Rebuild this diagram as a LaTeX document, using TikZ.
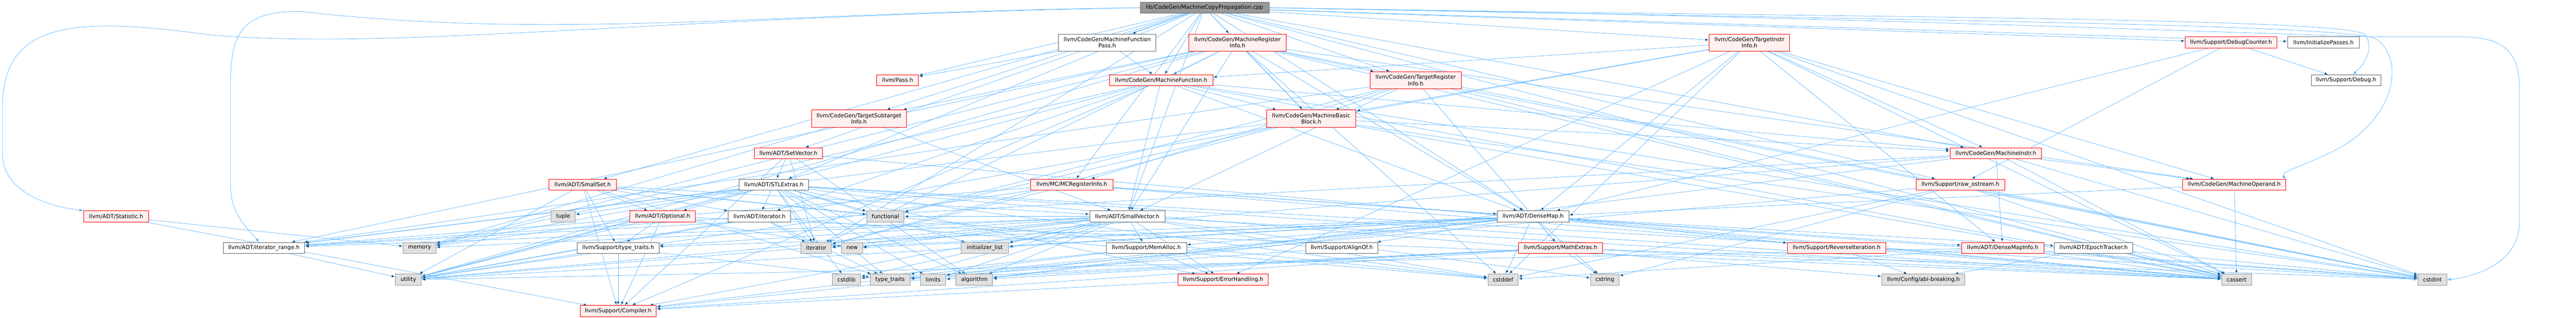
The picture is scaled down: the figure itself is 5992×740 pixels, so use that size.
\documentclass[tikz,border=0pt]{standalone}
\usepackage{fontspec}
\setmainfont{DejaVu Sans}
\usetikzlibrary{arrows.meta, backgrounds}

\definecolor{edgeblue}{HTML}{63B8FF}
\definecolor{redfill}{HTML}{FFF0F0}
\definecolor{leafgray}{HTML}{E0E0E0}
\definecolor{rootgray}{HTML}{999999}

\begin{document}
\begin{tikzpicture}[x=1pt, y=-1pt]
            \tikzstyle{every node}+=[inner sep=0pt, align=center, font=\fontsize{12.8}{14.5}\selectfont, minimum height=26pt]
            \tikzstyle{redfile}=[draw=red, fill=redfill, line width=1pt]
            \tikzstyle{plainfile}=[draw=black!60, fill=white, line width=1pt]
            \tikzstyle{leaffile}=[draw=black!40, fill=leafgray, line width=1pt]
            \tikzstyle{rootfile}=[draw=black!60, fill=rootgray, line width=1pt]
            \tikzstyle{twoline}=[minimum height=40pt]
            \tikzstyle{inc}=[draw=edgeblue, line width=0.9pt, -{Latex[length=9pt,width=7pt]}]
            \useasboundingbox (0,0) rectangle (5992,740);
            % top
            \node [rootfile, minimum width=300pt] (root) at (2802,18) {lib/CodeGen/MachineCopyPropagation.cpp};
            \node [plainfile, twoline, minimum width=227pt] (mfpass) at (2575.5,99) {llvm/CodeGen/MachineFunction\\Pass.h};
            \node [redfile, twoline, minimum width=227pt] (mri) at (2878.5,99) {llvm/CodeGen/MachineRegister\\Info.h};
            \node [redfile, twoline, minimum width=187pt] (tii) at (4069.5,99) {llvm/CodeGen/TargetInstr\\Info.h};
            \node [redfile, minimum width=213pt] (dbgcounter) at (5189.5,99) {llvm/Support/DebugCounter.h};
            \node [plainfile, minimum width=167pt] (initpasses) at (5404.5,99) {llvm/InitializePasses.h};
            \node [redfile, twoline, minimum width=212pt] (tri) at (3293,187) {llvm/CodeGen/TargetRegister\\Info.h};
            \node [redfile, minimum width=97pt] (pass) at (2088,187) {llvm/Pass.h};
            \node [redfile, minimum width=240pt] (mf) at (2701,187) {llvm/CodeGen/MachineFunction.h};
            \node [plainfile, minimum width=162pt] (debug) at (5457,187) {llvm/Support/Debug.h};
            \node [redfile, twoline, minimum width=220pt] (tsi) at (1998,276) {llvm/CodeGen/TargetSubtarget\\Info.h};
            \node [redfile, twoline, minimum width=208pt] (mbb) at (3050,276) {llvm/CodeGen/MachineBasic\\Block.h};
            \node [redfile, minimum width=158pt] (setvector) at (1834,357) {llvm/ADT/SetVector.h};
            \node [redfile, minimum width=213pt] (minstr) at (4642.5,357) {llvm/CodeGen/MachineInstr.h};
            % middle
            \node [redfile, minimum width=157pt] (smallset) at (1355.5,430) {llvm/ADT/SmallSet.h};
            \node [plainfile, minimum width=162pt] (stlextras) at (1800,430) {llvm/ADT/STLExtras.h};
            \node [redfile, minimum width=192pt] (mcreg) at (2493,430) {llvm/MC/MCRegisterInfo.h};
            \node [redfile, minimum width=206pt] (rawostream) at (4560,430) {llvm/Support/raw\_ostream.h};
            \node [redfile, minimum width=240pt] (moperand) at (5197,430) {llvm/CodeGen/MachineOperand.h};
            \node [redfile, minimum width=151pt] (statistic) at (270,504) {llvm/ADT/Statistic.h};
            \node [leaffile, minimum width=56pt] (tuple) at (1310,504) {tuple};
            \node [redfile, minimum width=152pt] (optional) at (1541,504) {llvm/ADT/Optional.h};
            \node [plainfile, minimum width=145pt] (iterh) at (1766.5,504) {llvm/ADT/iterator.h};
            \node [leaffile, minimum width=87pt] (functional) at (2059.5,504) {functional};
            \node [plainfile, minimum width=175pt] (smallvector) at (2622,504) {llvm/ADT/SmallVector.h};
            \node [plainfile, minimum width=166pt] (densemap) at (3566,504) {llvm/ADT/DenseMap.h};
            \node [plainfile, minimum width=190pt] (iterrange) at (614,577.5) {llvm/ADT/iterator\_range.h};
            \node [leaffile, minimum width=76pt] (memory) at (976,577.5) {memory};
            \node [plainfile, minimum width=190pt] (typetraitsh) at (1438,577.5) {llvm/Support/type\_traits.h};
            \node [leaffile, minimum width=71pt] (iterator) at (1898.5,577.5) {iterator};
            \node [leaffile, minimum width=48pt] (new) at (1982,577.5) {new};
            \node [leaffile, minimum width=111pt] (initlist) at (2290.5,577.5) {initializer\_list};
            \node [plainfile, minimum width=187pt] (memalloc) at (2666.5,577.5) {llvm/Support/MemAlloc.h};
            \node [plainfile, minimum width=168pt] (alignof) at (3121,577.5) {llvm/Support/AlignOf.h};
            \node [redfile, minimum width=196pt] (mathextras) at (3630,577.5) {llvm/Support/MathExtras.h};
            \node [redfile, minimum width=229pt] (reverseiter) at (4272,577.5) {llvm/Support/ReverseIteration.h};
            \node [redfile, minimum width=192pt] (densemapinfo) at (4658.5,577.5) {llvm/ADT/DenseMapInfo.h};
            \node [plainfile, minimum width=182pt] (epoch) at (4870,577.5) {llvm/ADT/EpochTracker.h};
            % bottom
            \node [leaffile, minimum width=60pt] (utility) at (950,651.5) {utility};
            \node [leaffile, minimum width=66pt] (cstdlib) at (1969,651.5) {cstdlib};
            \node [leaffile, minimum width=93pt] (typetraits) at (2070.5,651.5) {type\_traits};
            \node [leaffile, minimum width=59pt] (limits) at (2170.5,651.5) {limits};
            \node [leaffile, minimum width=85pt] (algorithm) at (2266.5,651.5) {algorithm};
            \node [redfile, minimum width=210pt] (errorhandling) at (2845,651.5) {llvm/Support/ErrorHandling.h};
            \node [leaffile, minimum width=70pt] (cstddef) at (3496,651.5) {cstddef};
            \node [leaffile, minimum width=66pt] (cstring) at (3733,651.5) {cstring};
            \node [leaffile, minimum width=193pt] (abibreaking) at (4474,651.5) {llvm/Config/abi-breaking.h};
            \node [leaffile, minimum width=69pt] (cassert) at (5202.5,651.5) {cassert};
            \node [leaffile, minimum width=67pt] (cstdint) at (5658,651.5) {cstdint};
            \node [redfile, minimum width=177pt] (compiler) at (1438,724.5) {llvm/Support/Compiler.h};
            % includes
            \begin{scope}[on background layer]
            \path [inc] (root) edge (densemap) edge (stlextras) edge (setvector) edge (smallset) edge (smallvector) edge (mbb) edge (mf) edge (mfpass) edge (minstr) edge (mri) edge (tii) edge (tri) edge (tsi) edge (initpasses) edge (mcreg) edge (pass) edge (dbgcounter) edge (rawostream) edge (cassert) edge (iterator);
            \draw [inc] (root.west) .. controls (1500,40) and (900,120) .. (478,80) .. controls (150,35) and (6,60) .. (6,250) -- (6,360) .. controls (6,440) and (100,480) .. (statistic.north west);
            \draw [inc] (root.west) .. controls (1800,28) and (1300,95) .. (702,27) .. controls (560,24) and (536,80) .. (536,200) -- (536,430) .. controls (536,500) and (575,530) .. (iterrange);
            \draw [inc] (root.east) .. controls (4200,40) and (5450,40) .. (5500,80) .. controls (5525,110) and (5500,150) .. (debug);
            \draw [inc] (root.east) .. controls (4300,45) and (5450,55) .. (5525,90) .. controls (5590,130) and (5580,260) .. (5450,340) .. controls (5380,380) and (5300,400) .. (moperand.north east);
            \draw [inc] (root.east) .. controls (4400,40) and (5400,86) .. (5570,86) -- (5727,86) .. controls (5820,86) and (5860,120) .. (5860,200) -- (5860,520) .. controls (5860,610) and (5760,645) .. (cstdint.east);
            \path [inc] (mfpass) edge (mf) edge (pass);
            \path [inc] (mri) edge (mf) edge (smallvector) edge (densemap) edge (iterrange) edge (mbb) edge (moperand) edge (tri) edge (tsi) edge (cassert) edge (cstddef) edge (cstdint) edge (iterator) edge (memory) edge (utility);
            \path [inc] (mf) edge (smallvector) edge (densemap) edge (iterh) edge (mbb) edge (minstr) edge (compiler) edge (cassert) edge (cstdint) edge (memory) edge (utility);
            \path [inc] (tii) edge (densemap) edge (densemapinfo) edge (mbb) edge (mf) edge (minstr) edge (moperand) edge (errorhandling) edge (cassert) edge (cstddef) edge (cstdint) edge (utility);
            \path [inc] (tri) edge (smallvector) edge (iterrange) edge (mbb) edge (mcreg) edge (mathextras) edge (cassert) edge (cstdint) edge (functional);
            \path [inc] (tsi) edge (smallvector) edge (memory);
            \path [inc] (mbb) edge (iterrange) edge (minstr) edge (cassert) edge (cstdint) edge (functional) edge (iterator);
            \path [inc] (minstr) edge (densemapinfo) edge (iterrange) edge (moperand) edge (algorithm) edge (cassert) edge (cstdint) edge (utility);
            \path [inc] (moperand) edge (densemap) edge (cassert);
            \path [inc] (rawostream) edge (cassert) edge (cstddef) edge (cstdint) edge (cstring) edge (typetraits);
            \path [inc] (mcreg) edge (densemap) edge (iterrange) edge (cassert) edge (cstdint) edge (iterator) edge (utility);
            \path [inc] (setvector) edge (stlextras) edge (compiler) edge (algorithm) edge (cassert) edge (iterator);
            \path [inc] (smallset) edge (optional) edge (smallvector) edge (iterh) edge (compiler) edge (typetraitsh) edge (cstddef) edge (functional) edge (typetraits) edge (utility);
            \path [inc] (stlextras) edge (optional) edge (iterh) edge (iterrange) edge (abibreaking) edge (errorhandling) edge (algorithm) edge (cassert) edge (cstddef) edge (cstdint) edge (cstdlib) edge (functional) edge (initlist) edge (iterator) edge (limits) edge (memory) edge (tuple) edge (typetraits) edge (utility);
            \path [inc] (optional) edge (typetraitsh) edge (compiler) edge (cassert) edge (memory) edge (new) edge (utility);
            \path [inc] (iterh) edge (iterrange) edge (cstddef) edge (iterator) edge (typetraits) edge (utility);
            \path [inc] (smallvector) edge (iterrange) edge (compiler) edge (errorhandling) edge (memalloc) edge (typetraitsh) edge (algorithm) edge (cassert) edge (cstddef) edge (cstdlib) edge (cstring) edge (functional) edge (initlist) edge (iterator) edge (limits) edge (memory) edge (new) edge (typetraits) edge (utility);
            \path [inc] (densemap) edge (densemapinfo) edge (epoch) edge (alignof) edge (compiler) edge (mathextras) edge (memalloc) edge (reverseiter) edge (typetraitsh) edge (algorithm) edge (cassert) edge (cstddef) edge (cstring) edge (initlist) edge (iterator) edge (new) edge (typetraits) edge (utility);
            \path [inc] (statistic) edge (compiler) edge (memory);
            \path [inc] (iterrange) edge (utility);
            \path [inc] (typetraitsh) edge (compiler) edge (typetraits) edge (utility);
            \path [inc] (memalloc) edge (compiler) edge (errorhandling) edge (cstdlib);
            \path [inc] (alignof) edge (typetraits);
            \path [inc] (mathextras) edge (compiler) edge (algorithm) edge (cassert) edge (cstdint) edge (cstring) edge (limits) edge (typetraits);
            \path [inc] (reverseiter) edge (abibreaking);
            \path [inc] (densemapinfo) edge (cassert) edge (cstddef) edge (cstdint) edge (utility);
            \path [inc] (epoch) edge (abibreaking) edge (cstdint);
            \path [inc] (errorhandling) edge (compiler);
            \path [inc] (dbgcounter) edge (densemap) edge (debug) edge (rawostream);
            \end{scope}
\end{tikzpicture}
\end{document}
